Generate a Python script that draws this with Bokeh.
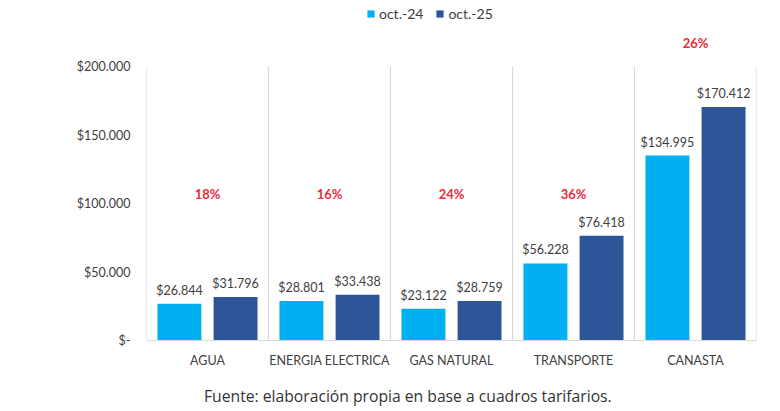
from bokeh.plotting import figure
from bokeh.models import ColumnDataSource, Range1d, FixedTicker, Legend, LegendItem, Div
from bokeh.layouts import column
from bokeh.core.properties import value
from bokeh.embed import file_html
from bokeh.resources import INLINE

# ---- data ----
categories = ["AGUA", "ENERGIA ELECTRICA", "GAS NATURAL", "TRANSPORTE", "CANASTA"]
series_names = ["oct.-24", "oct.-25"]
oct24 = [26844, 28801, 23122, 56228, 134995]
oct25 = [31796, 33438, 28759, 76418, 170412]
pct_labels = ["18%", "16%", "24%", "36%", "26%"]
y_ticks = [0, 50000, 100000, 150000, 200000]
y_tick_labels = ["$-", "$50.000", "$100.000", "$150.000", "$200.000"]
footer = "Fuente: elaboración propia en base a cuadros tarifarios."

# ---- styling / layout ----
C_LIGHT = "#00B0F0"
C_DARK = "#2E5597"
TXT = "#404040"
GRID = "#D9D9D9"
FONT = "Lato"
BAR_W = 0.36
OFFSET = 0.23

def money(v):
    return "$" + f"{v:,}".replace(",", ".")

n = len(categories)
centers = [i + 0.5 for i in range(n)]

p = figure(width=780, height=380, output_backend="svg", toolbar_location=None,
           x_range=Range1d(0, n), y_range=Range1d(0, 248200),
           min_border_left=146, min_border_right=24, min_border_top=0,
           min_border_bottom=40)
p.outline_line_color = None
p.xgrid.visible = False
p.ygrid.visible = False
p.background_fill_color = "white"

src24 = ColumnDataSource(dict(x=[c - OFFSET for c in centers], top=oct24,
                              lab=[money(v) for v in oct24]))
src25 = ColumnDataSource(dict(x=[c + OFFSET for c in centers], top=oct25,
                              lab=[money(v) for v in oct25]))

# vertical separators
p.segment(x0=list(range(n + 1)), y0=[0] * (n + 1), x1=list(range(n + 1)),
          y1=[max(y_ticks)] * (n + 1), line_color=GRID, line_width=1.2)

r1 = p.vbar(x="x", top="top", width=BAR_W, source=src24, fill_color=C_LIGHT, line_color=None)
r2 = p.vbar(x="x", top="top", width=BAR_W, source=src25, fill_color=C_DARK, line_color=None)

for s in (src24, src25):
    p.text(x="x", y="top", text="lab", source=s, text_align="center",
           text_baseline="bottom", y_offset=-6, text_font=value(FONT),
           text_font_size="12.5px", text_color=TXT)

pct_y = [107300, 107300, 107300, 107300, 217500]
p.text(x=centers, y=pct_y, text=pct_labels, text_align="center",
       text_baseline="middle", text_font=value(FONT), text_font_size="13px",
       text_font_style="bold", text_color="#EE2A3C")

# axes
p.yaxis.ticker = FixedTicker(ticks=y_ticks)
p.yaxis.major_label_overrides = {t: l for t, l in zip(y_ticks, y_tick_labels)}
p.yaxis.axis_line_color = None
p.yaxis.major_tick_line_color = None
p.yaxis.minor_tick_line_color = None
p.yaxis.major_label_text_font = FONT
p.yaxis.major_label_text_font_size = "12.5px"
p.yaxis.major_label_text_color = TXT
p.yaxis.major_label_standoff = 10

p.xaxis.ticker = FixedTicker(ticks=centers)
p.xaxis.major_label_overrides = {c: l for c, l in zip(centers, categories)}
p.xaxis.axis_line_color = GRID
p.xaxis.axis_line_width = 1.2
p.xaxis.major_tick_line_color = None
p.xaxis.minor_tick_line_color = None
p.xaxis.major_label_text_font = FONT
p.xaxis.major_label_text_font_size = "12.5px"
p.xaxis.major_label_text_color = TXT
p.xaxis.major_label_standoff = 6

legend = Legend(items=[LegendItem(label=series_names[0], renderers=[r1]),
                       LegendItem(label=series_names[1], renderers=[r2])],
                location=(220, 318), orientation="horizontal",
                border_line_color=None, background_fill_alpha=0,
                padding=0, margin=0, spacing=12, glyph_width=9, glyph_height=9,
                label_standoff=4, label_text_font=FONT,
                label_text_font_size="14px", label_text_color=TXT)
p.add_layout(legend)

div = Div(text=footer, width=780, height=31, margin=(0, 0, 0, 0),
          styles={"font-family": "Open Sans", "font-size": "15.7px",
                  "color": "#333333", "padding-left": "204px",
                  "padding-top": "5px", "white-space": "nowrap"})

layout = column(p, div, spacing=0)
open("out.html", "w").write(file_html(layout, INLINE))
